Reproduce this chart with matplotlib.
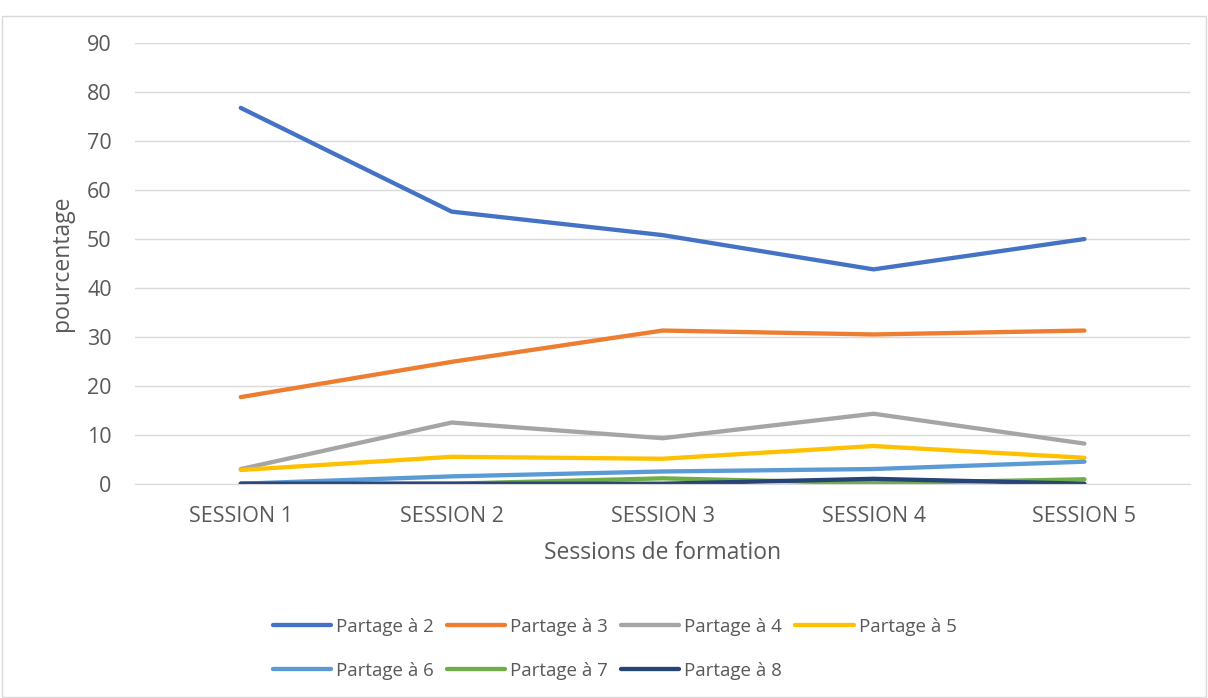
import matplotlib.pyplot as plt
from matplotlib.patches import Rectangle

sessions = ["SESSION 1", "SESSION 2", "SESSION 3", "SESSION 4", "SESSION 5"]
partage_2 = [76.8, 55.6, 50.8, 43.8, 50.0]
partage_3 = [17.7, 24.9, 31.3, 30.5, 31.3]
partage_4 = [3.0, 12.5, 9.3, 14.3, 8.2]
partage_5 = [2.8, 5.5, 5.1, 7.7, 5.3]
partage_6 = [0.0, 1.5, 2.5, 3.0, 4.5]
partage_7 = [0.0, 0.0, 1.1, 0.1, 0.9]
partage_8 = [0.0, 0.0, 0.0, 1.0, 0.0]

series = [
    ("Partage à 2", partage_2, "#4472C4"),
    ("Partage à 3", partage_3, "#ED7D31"),
    ("Partage à 4", partage_4, "#A5A5A5"),
    ("Partage à 5", partage_5, "#FFC000"),
    ("Partage à 6", partage_6, "#5B9BD5"),
    ("Partage à 7", partage_7, "#70AD47"),
    ("Partage à 8", partage_8, "#264478"),
]

plt.rcParams['font.family'] = ['Open Sans', 'DejaVu Sans']
txt = "#595959"

fig = plt.figure(figsize=(12.08, 6.98), dpi=100)
ax = fig.add_axes([0.112, 0.307, 0.873, 0.631])

x = range(len(sessions))
lines = []
for name, vals, col in series:
    ln, = ax.plot(x, vals, color=col, lw=3.1, label=name, solid_capstyle='round')
    lines.append(ln)

ax.set_xlim(-0.5, len(sessions) - 0.5)
ax.set_ylim(0, 90)
ax.set_yticks(range(0, 91, 10))
ax.set_xticks(list(x))
ax.set_xticklabels(sessions)
ax.tick_params(axis='both', length=0, labelsize=15.5, colors=txt)
ax.tick_params(axis='x', pad=16)
ax.tick_params(axis='y', pad=17)
ax.grid(axis='y', color="#D9D9D9", lw=1)
ax.set_axisbelow(True)
for s in ["top", "right", "left"]:
    ax.spines[s].set_visible(False)
ax.spines["bottom"].set_color("#D9D9D9")
ax.set_xlabel("Sessions de formation", fontsize=16.5, color=txt, labelpad=10)
ax.set_ylabel("pourcentage", fontsize=16.5, color=txt, labelpad=9)

# legend filled row by row: 4 on first row, 3 on second
order = [0, 4, 1, 5, 2, 6, 3]
leg = fig.legend([lines[i] for i in order], [series[i][0] for i in order],
                 loc="upper left", bbox_to_anchor=(0.212, 0.139), ncol=4,
                 frameon=False, fontsize=13.5, handlelength=3.1, handletextpad=0.27,
                 columnspacing=0.7, labelspacing=1.38, labelcolor=txt,
                 bbox_transform=fig.transFigure)
for h in leg.get_lines():
    h.set_linewidth(3.1)

fig.patches.append(Rectangle((0.002, 0.002), 0.996, 0.975, transform=fig.transFigure,
                             fill=False, edgecolor="#D9D9D9", lw=1))

fig.savefig("out.png", dpi=100)
